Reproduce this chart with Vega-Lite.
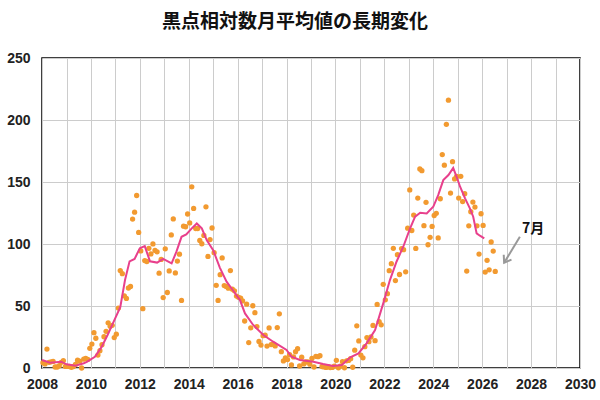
{
  "$schema": "https://vega.github.io/schema/vega-lite/v6.json",
  "width": 538,
  "height": 310,
  "autosize": {"type": "none"},
  "padding": {"left": 42, "top": 58, "right": 20, "bottom": 32},
  "background": "white",
  "title": {"text": "黒点相対数月平均値の長期変化", "font": "Noto Sans CJK JP", "fontSize": 19, "fontWeight": "bold", "color": "#111", "offset": 19, "dx": -16},
  "config": {
    "view": {"stroke": "#000", "strokeWidth": 1.5},
    "axis": {"labelFont": "Liberation Sans", "labelFontSize": 14, "labelFontWeight": "bold", "labelColor": "#222", "gridColor": "#cccccc", "gridWidth": 1, "domain": false, "ticks": false, "title": null}
  },
  "datasets": {
    "monthly": [
      {"d":"2008-01-15","v":4.3},{"d":"2008-02-15","v":3.3},{"d":"2008-03-15","v":15.3},{"d":"2008-04-15","v":4.6},{"d":"2008-05-15","v":5.0},{"d":"2008-06-15","v":5.3},{"d":"2008-07-15","v":0.8},{"d":"2008-08-15","v":0.8},{"d":"2008-09-15","v":1.8},{"d":"2008-10-15","v":4.6},{"d":"2008-11-15","v":6.0},{"d":"2008-12-15","v":1.3},
      {"d":"2009-01-15","v":1.3},{"d":"2009-02-15","v":1.2},{"d":"2009-03-15","v":0.6},{"d":"2009-04-15","v":1.2},{"d":"2009-05-15","v":2.9},{"d":"2009-06-15","v":6.3},{"d":"2009-07-15","v":5.5},{"d":"2009-08-15","v":0.0},{"d":"2009-09-15","v":7.1},{"d":"2009-10-15","v":7.7},{"d":"2009-11-15","v":6.9},{"d":"2009-12-15","v":15.9},
      {"d":"2010-01-15","v":19.3},{"d":"2010-02-15","v":28.5},{"d":"2010-03-15","v":24.0},{"d":"2010-04-15","v":10.4},{"d":"2010-05-15","v":13.9},{"d":"2010-06-15","v":18.8},{"d":"2010-07-15","v":25.2},{"d":"2010-08-15","v":29.6},{"d":"2010-09-15","v":36.4},{"d":"2010-10-15","v":33.6},{"d":"2010-11-15","v":34.4},{"d":"2010-12-15","v":24.5},
      {"d":"2011-01-15","v":27.3},{"d":"2011-02-15","v":48.3},{"d":"2011-03-15","v":78.6},{"d":"2011-04-15","v":76.1},{"d":"2011-05-15","v":58.2},{"d":"2011-06-15","v":56.1},{"d":"2011-07-15","v":64.5},{"d":"2011-08-15","v":65.8},{"d":"2011-09-15","v":120.1},{"d":"2011-10-15","v":125.7},{"d":"2011-11-15","v":139.1},{"d":"2011-12-15","v":109.3},
      {"d":"2012-01-15","v":94.4},{"d":"2012-02-15","v":47.8},{"d":"2012-03-15","v":86.6},{"d":"2012-04-15","v":85.9},{"d":"2012-05-15","v":96.5},{"d":"2012-06-15","v":92.0},{"d":"2012-07-15","v":100.1},{"d":"2012-08-15","v":94.8},{"d":"2012-09-15","v":93.7},{"d":"2012-10-15","v":76.5},{"d":"2012-11-15","v":87.6},{"d":"2012-12-15","v":56.8},
      {"d":"2013-01-15","v":96.1},{"d":"2013-02-15","v":60.9},{"d":"2013-03-15","v":78.3},{"d":"2013-04-15","v":107.3},{"d":"2013-05-15","v":120.2},{"d":"2013-06-15","v":76.7},{"d":"2013-07-15","v":86.2},{"d":"2013-08-15","v":91.8},{"d":"2013-09-15","v":54.5},{"d":"2013-10-15","v":114.4},{"d":"2013-11-15","v":113.9},{"d":"2013-12-15","v":124.2},
      {"d":"2014-01-15","v":117.0},{"d":"2014-02-15","v":146.1},{"d":"2014-03-15","v":128.7},{"d":"2014-04-15","v":112.5},{"d":"2014-05-15","v":112.5},{"d":"2014-06-15","v":102.9},{"d":"2014-07-15","v":100.2},{"d":"2014-08-15","v":106.9},{"d":"2014-09-15","v":130.0},{"d":"2014-10-15","v":90.0},{"d":"2014-11-15","v":103.6},{"d":"2014-12-15","v":112.9},
      {"d":"2015-01-15","v":93.0},{"d":"2015-02-15","v":66.7},{"d":"2015-03-15","v":54.5},{"d":"2015-04-15","v":75.3},{"d":"2015-05-15","v":88.8},{"d":"2015-06-15","v":66.5},{"d":"2015-07-15","v":65.8},{"d":"2015-08-15","v":64.4},{"d":"2015-09-15","v":78.6},{"d":"2015-10-15","v":63.6},{"d":"2015-11-15","v":62.2},{"d":"2015-12-15","v":58.0},
      {"d":"2016-01-15","v":57.0},{"d":"2016-02-15","v":56.4},{"d":"2016-03-15","v":54.1},{"d":"2016-04-15","v":37.9},{"d":"2016-05-15","v":51.5},{"d":"2016-06-15","v":20.5},{"d":"2016-07-15","v":32.4},{"d":"2016-08-15","v":50.2},{"d":"2016-09-15","v":44.6},{"d":"2016-10-15","v":33.4},{"d":"2016-11-15","v":21.4},{"d":"2016-12-15","v":18.5},
      {"d":"2017-01-15","v":26.1},{"d":"2017-02-15","v":26.4},{"d":"2017-03-15","v":17.7},{"d":"2017-04-15","v":32.3},{"d":"2017-05-15","v":18.9},{"d":"2017-06-15","v":19.2},{"d":"2017-07-15","v":17.8},{"d":"2017-08-15","v":32.6},{"d":"2017-09-15","v":43.7},{"d":"2017-10-15","v":13.2},{"d":"2017-11-15","v":5.7},{"d":"2017-12-15","v":8.2},
      {"d":"2018-01-15","v":6.8},{"d":"2018-02-15","v":10.7},{"d":"2018-03-15","v":2.5},{"d":"2018-04-15","v":8.9},{"d":"2018-05-15","v":13.1},{"d":"2018-06-15","v":15.6},{"d":"2018-07-15","v":1.6},{"d":"2018-08-15","v":8.7},{"d":"2018-09-15","v":3.3},{"d":"2018-10-15","v":4.9},{"d":"2018-11-15","v":4.9},{"d":"2018-12-15","v":3.1},
      {"d":"2019-01-15","v":7.7},{"d":"2019-02-15","v":0.8},{"d":"2019-03-15","v":9.4},{"d":"2019-04-15","v":9.1},{"d":"2019-05-15","v":9.9},{"d":"2019-06-15","v":1.2},{"d":"2019-07-15","v":0.9},{"d":"2019-08-15","v":0.5},{"d":"2019-09-15","v":1.1},{"d":"2019-10-15","v":0.4},{"d":"2019-11-15","v":0.5},{"d":"2019-12-15","v":1.5},
      {"d":"2020-01-15","v":6.2},{"d":"2020-02-15","v":0.2},{"d":"2020-03-15","v":1.5},{"d":"2020-04-15","v":5.2},{"d":"2020-05-15","v":0.2},{"d":"2020-06-15","v":5.8},{"d":"2020-07-15","v":6.1},{"d":"2020-08-15","v":7.5},{"d":"2020-09-15","v":0.6},{"d":"2020-10-15","v":14.4},{"d":"2020-11-15","v":34.0},{"d":"2020-12-15","v":21.8},
      {"d":"2021-01-15","v":10.4},{"d":"2021-02-15","v":8.2},{"d":"2021-03-15","v":17.2},{"d":"2021-04-15","v":24.5},{"d":"2021-05-15","v":21.2},{"d":"2021-06-15","v":25.0},{"d":"2021-07-15","v":34.3},{"d":"2021-08-15","v":22.0},{"d":"2021-09-15","v":51.3},{"d":"2021-10-15","v":37.4},{"d":"2021-11-15","v":34.8},{"d":"2021-12-15","v":67.5},
      {"d":"2022-01-15","v":55.0},{"d":"2022-02-15","v":59.9},{"d":"2022-03-15","v":78.5},{"d":"2022-04-15","v":84.1},{"d":"2022-05-15","v":96.5},{"d":"2022-06-15","v":70.5},{"d":"2022-07-15","v":91.4},{"d":"2022-08-15","v":75.4},{"d":"2022-09-15","v":96.3},{"d":"2022-10-15","v":95.4},{"d":"2022-11-15","v":77.6},{"d":"2022-12-15","v":112.8},
      {"d":"2023-01-15","v":143.6},{"d":"2023-02-15","v":110.9},{"d":"2023-03-15","v":123.3},{"d":"2023-04-15","v":96.4},{"d":"2023-05-15","v":137.0},{"d":"2023-06-15","v":160.5},{"d":"2023-07-15","v":159.1},{"d":"2023-08-15","v":114.8},{"d":"2023-09-15","v":133.6},{"d":"2023-10-15","v":99.4},{"d":"2023-11-15","v":105.4},{"d":"2023-12-15","v":114.2},
      {"d":"2024-01-15","v":123.0},{"d":"2024-02-15","v":124.7},{"d":"2024-03-15","v":104.9},{"d":"2024-04-15","v":136.5},{"d":"2024-05-15","v":172.1},{"d":"2024-06-15","v":163.6},{"d":"2024-07-15","v":196.5},{"d":"2024-08-15","v":216.0},{"d":"2024-09-15","v":141.1},{"d":"2024-10-15","v":166.4},{"d":"2024-11-15","v":152.5},{"d":"2024-12-15","v":154.5},
      {"d":"2025-01-15","v":137.0},{"d":"2025-02-15","v":154.6},{"d":"2025-03-15","v":134.2},{"d":"2025-04-15","v":140.6},{"d":"2025-05-15","v":78.2},{"d":"2025-06-15","v":114.7},{"d":"2025-07-15","v":126.0},{"d":"2025-08-15","v":133.8},{"d":"2025-09-15","v":129.8},{"d":"2025-10-15","v":114.7},{"d":"2025-11-15","v":91.9},{"d":"2025-12-15","v":124.4},
      {"d":"2026-01-15","v":115.0},{"d":"2026-02-15","v":77.4},{"d":"2026-03-15","v":86.8},{"d":"2026-04-15","v":79.2},{"d":"2026-05-15","v":101.6},{"d":"2026-06-15","v":94.3},{"d":"2026-07-15","v":77.9}
    ],
    "smoothed": [
      {"d":"2008-01-01","v":6.5},{"d":"2008-05-01","v":4.3},{"d":"2008-10-15","v":5.1},{"d":"2009-01-01","v":3.0},{"d":"2009-05-15","v":1.9},{"d":"2009-09-15","v":3.8},{"d":"2009-11-01","v":5.0},{"d":"2010-03-01","v":9.0},{"d":"2010-06-10","v":17.0},{"d":"2010-09-10","v":27.0},{"d":"2010-11-25","v":36.0},{"d":"2011-03-15","v":49.0},{"d":"2011-05-25","v":71.0},{"d":"2011-08-01","v":86.0},{"d":"2011-10-15","v":88.0},{"d":"2012-01-01","v":96.5},{"d":"2012-03-15","v":98.3},{"d":"2012-06-01","v":86.0},{"d":"2012-09-15","v":85.0},{"d":"2012-12-15","v":88.0},{"d":"2013-04-20","v":84.4},{"d":"2013-07-01","v":93.8},{"d":"2013-09-15","v":105.8},{"d":"2013-11-25","v":107.8},{"d":"2014-02-15","v":112.6},{"d":"2014-05-01","v":116.6},{"d":"2014-07-15","v":112.6},{"d":"2014-09-28","v":103.0},{"d":"2015-01-01","v":95.0},{"d":"2015-04-10","v":81.0},{"d":"2015-07-20","v":69.6},{"d":"2015-10-20","v":62.9},{"d":"2016-02-05","v":54.8},{"d":"2016-04-20","v":44.0},{"d":"2016-08-20","v":34.7},{"d":"2017-01-20","v":26.6},{"d":"2017-06-15","v":21.2},{"d":"2018-01-01","v":14.5},{"d":"2018-03-15","v":9.1},{"d":"2018-07-20","v":6.5},{"d":"2019-02-05","v":5.0},{"d":"2019-07-01","v":3.2},{"d":"2019-11-25","v":1.6},{"d":"2020-04-05","v":2.4},{"d":"2020-08-10","v":8.6},{"d":"2020-12-10","v":11.8},{"d":"2021-04-10","v":19.9},{"d":"2021-08-15","v":30.6},{"d":"2021-12-15","v":52.1},{"d":"2022-03-25","v":70.9},{"d":"2022-07-01","v":85.7},{"d":"2022-10-10","v":97.8},{"d":"2023-01-20","v":112.6},{"d":"2023-04-05","v":122.0},{"d":"2023-06-20","v":125.2},{"d":"2023-09-25","v":124.7},{"d":"2024-01-01","v":130.0},{"d":"2024-03-15","v":139.4},{"d":"2024-05-30","v":151.5},{"d":"2024-08-15","v":155.6},{"d":"2024-10-25","v":161.4},{"d":"2024-12-15","v":154.2},{"d":"2025-02-05","v":146.2},{"d":"2025-04-20","v":136.8},{"d":"2025-07-01","v":128.7},{"d":"2025-08-20","v":122.0},{"d":"2025-10-10","v":108.6},{"d":"2025-11-28","v":106.7},{"d":"2026-02-01","v":104.5}
    ],
    "arrow": [{"d":"2027-07-18","v":105.8,"d2":"2026-11-25","v2":84.9}],
    "note": [{"d":"2028-01-30","v":112,"label":"7月"}]
  },
  "layer": [
    {
      "data": {"name": "monthly"},
      "mark": {"type": "circle", "size": 28, "color": "#F29A30", "opacity": 1},
      "encoding": {
        "x": {"field": "d", "type": "temporal",
          "scale": {"domain": [{"year": 2008, "month": 1, "date": 1}, {"year": 2030, "month": 1, "date": 1}], "nice": false},
          "axis": {"tickCount": {"interval": "year", "step": 1}, "grid": true, "labelExpr": "year(datum.value) % 2 == 0 ? timeFormat(datum.value, '%Y') : ''", "labelPadding": 9, "labelFlush": false, "labelOverlap": false}},
        "y": {"field": "v", "type": "quantitative", "scale": {"domain": [0, 250], "nice": false},
          "axis": {"values": [0, 50, 100, 150, 200, 250], "grid": true, "labelPadding": 12}}
      }
    },
    {
      "data": {"name": "smoothed"},
      "mark": {"type": "line", "color": "#E8408C", "strokeWidth": 2},
      "encoding": {
        "x": {"field": "d", "type": "temporal"},
        "y": {"field": "v", "type": "quantitative"}
      }
    },
    {
      "data": {"name": "arrow"},
      "mark": {"type": "rule", "color": "#999999", "strokeWidth": 2},
      "encoding": {
        "x": {"field": "d", "type": "temporal"},
        "y": {"field": "v", "type": "quantitative"},
        "x2": {"field": "d2"},
        "y2": {"field": "v2"}
      }
    },
    {
      "data": {"name": "arrow"},
      "mark": {"type": "point", "shape": "M-0.7,-1L0,0L0.7,-1", "size": 170, "filled": false, "stroke": "#999999", "strokeWidth": 2, "angle": 32, "opacity": 1},
      "encoding": {
        "x": {"field": "d2", "type": "temporal"},
        "y": {"field": "v2", "type": "quantitative"}
      }
    },
    {
      "data": {"name": "note"},
      "mark": {"type": "text", "font": "Noto Sans CJK JP", "fontSize": 14, "fontWeight": "bold", "color": "#111", "align": "center", "baseline": "middle"},
      "encoding": {
        "x": {"field": "d", "type": "temporal"},
        "y": {"field": "v", "type": "quantitative"},
        "text": {"field": "label"}
      }
    }
  ]
}
